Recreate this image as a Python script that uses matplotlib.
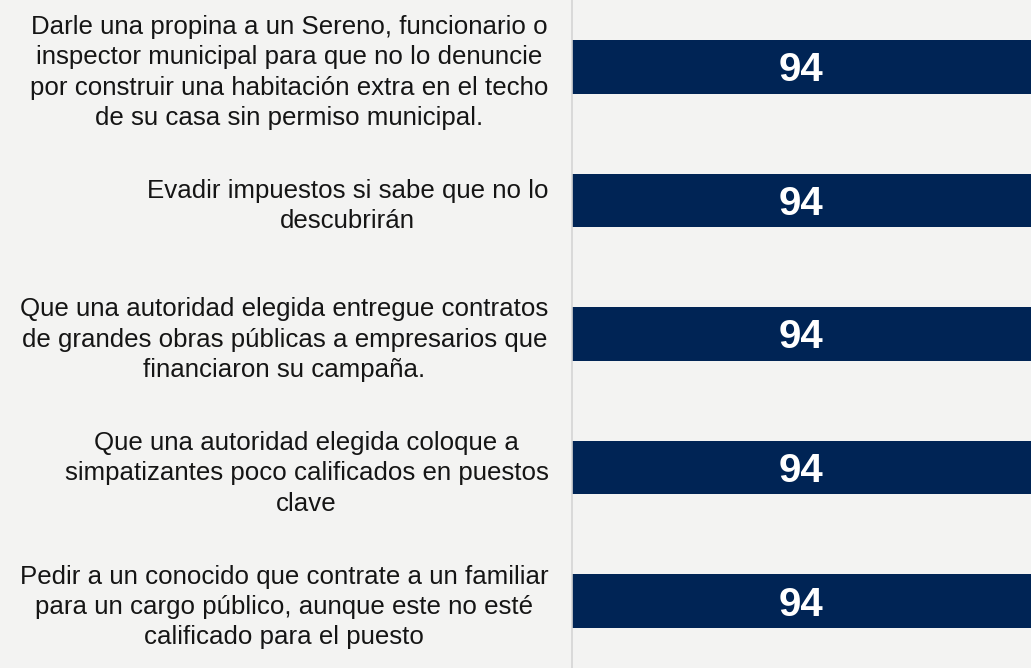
import numpy as np
import matplotlib.pyplot as plt

# Datos
labels = [
    "Darle una propina a un Sereno, funcionario o\ninspector municipal para que no lo denuncie\npor construir una habitación extra en el techo\nde su casa sin permiso municipal.",
    "Evadir impuestos si sabe que no lo\ndescubrirán",
    "Que una autoridad elegida entregue contratos\nde grandes obras públicas a empresarios que\nfinanciaron su campaña.",
    "Que una autoridad elegida coloque a\nsimpatizantes poco calificados en puestos\nclave",
    "Pedir a un conocido que contrate a un familiar\npara un cargo público, aunque este no esté\ncalificado para el puesto",
]
values = [94, 94, 94, 94, 94]

plt.rcParams['font.family'] = ['Liberation Sans', 'DejaVu Sans']

fig = plt.figure(figsize=(10.31, 6.68), dpi=100, facecolor='#f3f3f2')
ax = fig.add_axes([572/1031, 0, 1 - 572/1031, 1])
ax.set_facecolor('none')

y = np.arange(len(values))
bars = ax.barh(y, values, height=0.4, color='#002455')

for b, v in zip(bars, values):
    ax.annotate(str(v), (b.get_x() + b.get_width()/2, b.get_y() + b.get_height()/2),
                xytext=(0, -2.5), textcoords='offset points',
                ha='center', va='center', color='white', fontsize=29, fontweight='bold')

ax.set_xlim(0, 94)
ax.set_ylim(4.5, -0.5)
ax.set_yticks(y, labels)
for t in ax.get_yticklabels():
    t.set_multialignment('center')
    t.set_fontsize(18.6)
    t.set_color('#151515')
    t.set_linespacing(1.33)
ax.tick_params(axis='y', length=0, pad=17)
ax.set_xticks([])

for s in ['top', 'right', 'bottom']:
    ax.spines[s].set_visible(False)
ax.spines['left'].set_color('#d4d4d4')
ax.spines['left'].set_linewidth(1.2)

fig.savefig('out.png', dpi=100, facecolor=fig.get_facecolor())
